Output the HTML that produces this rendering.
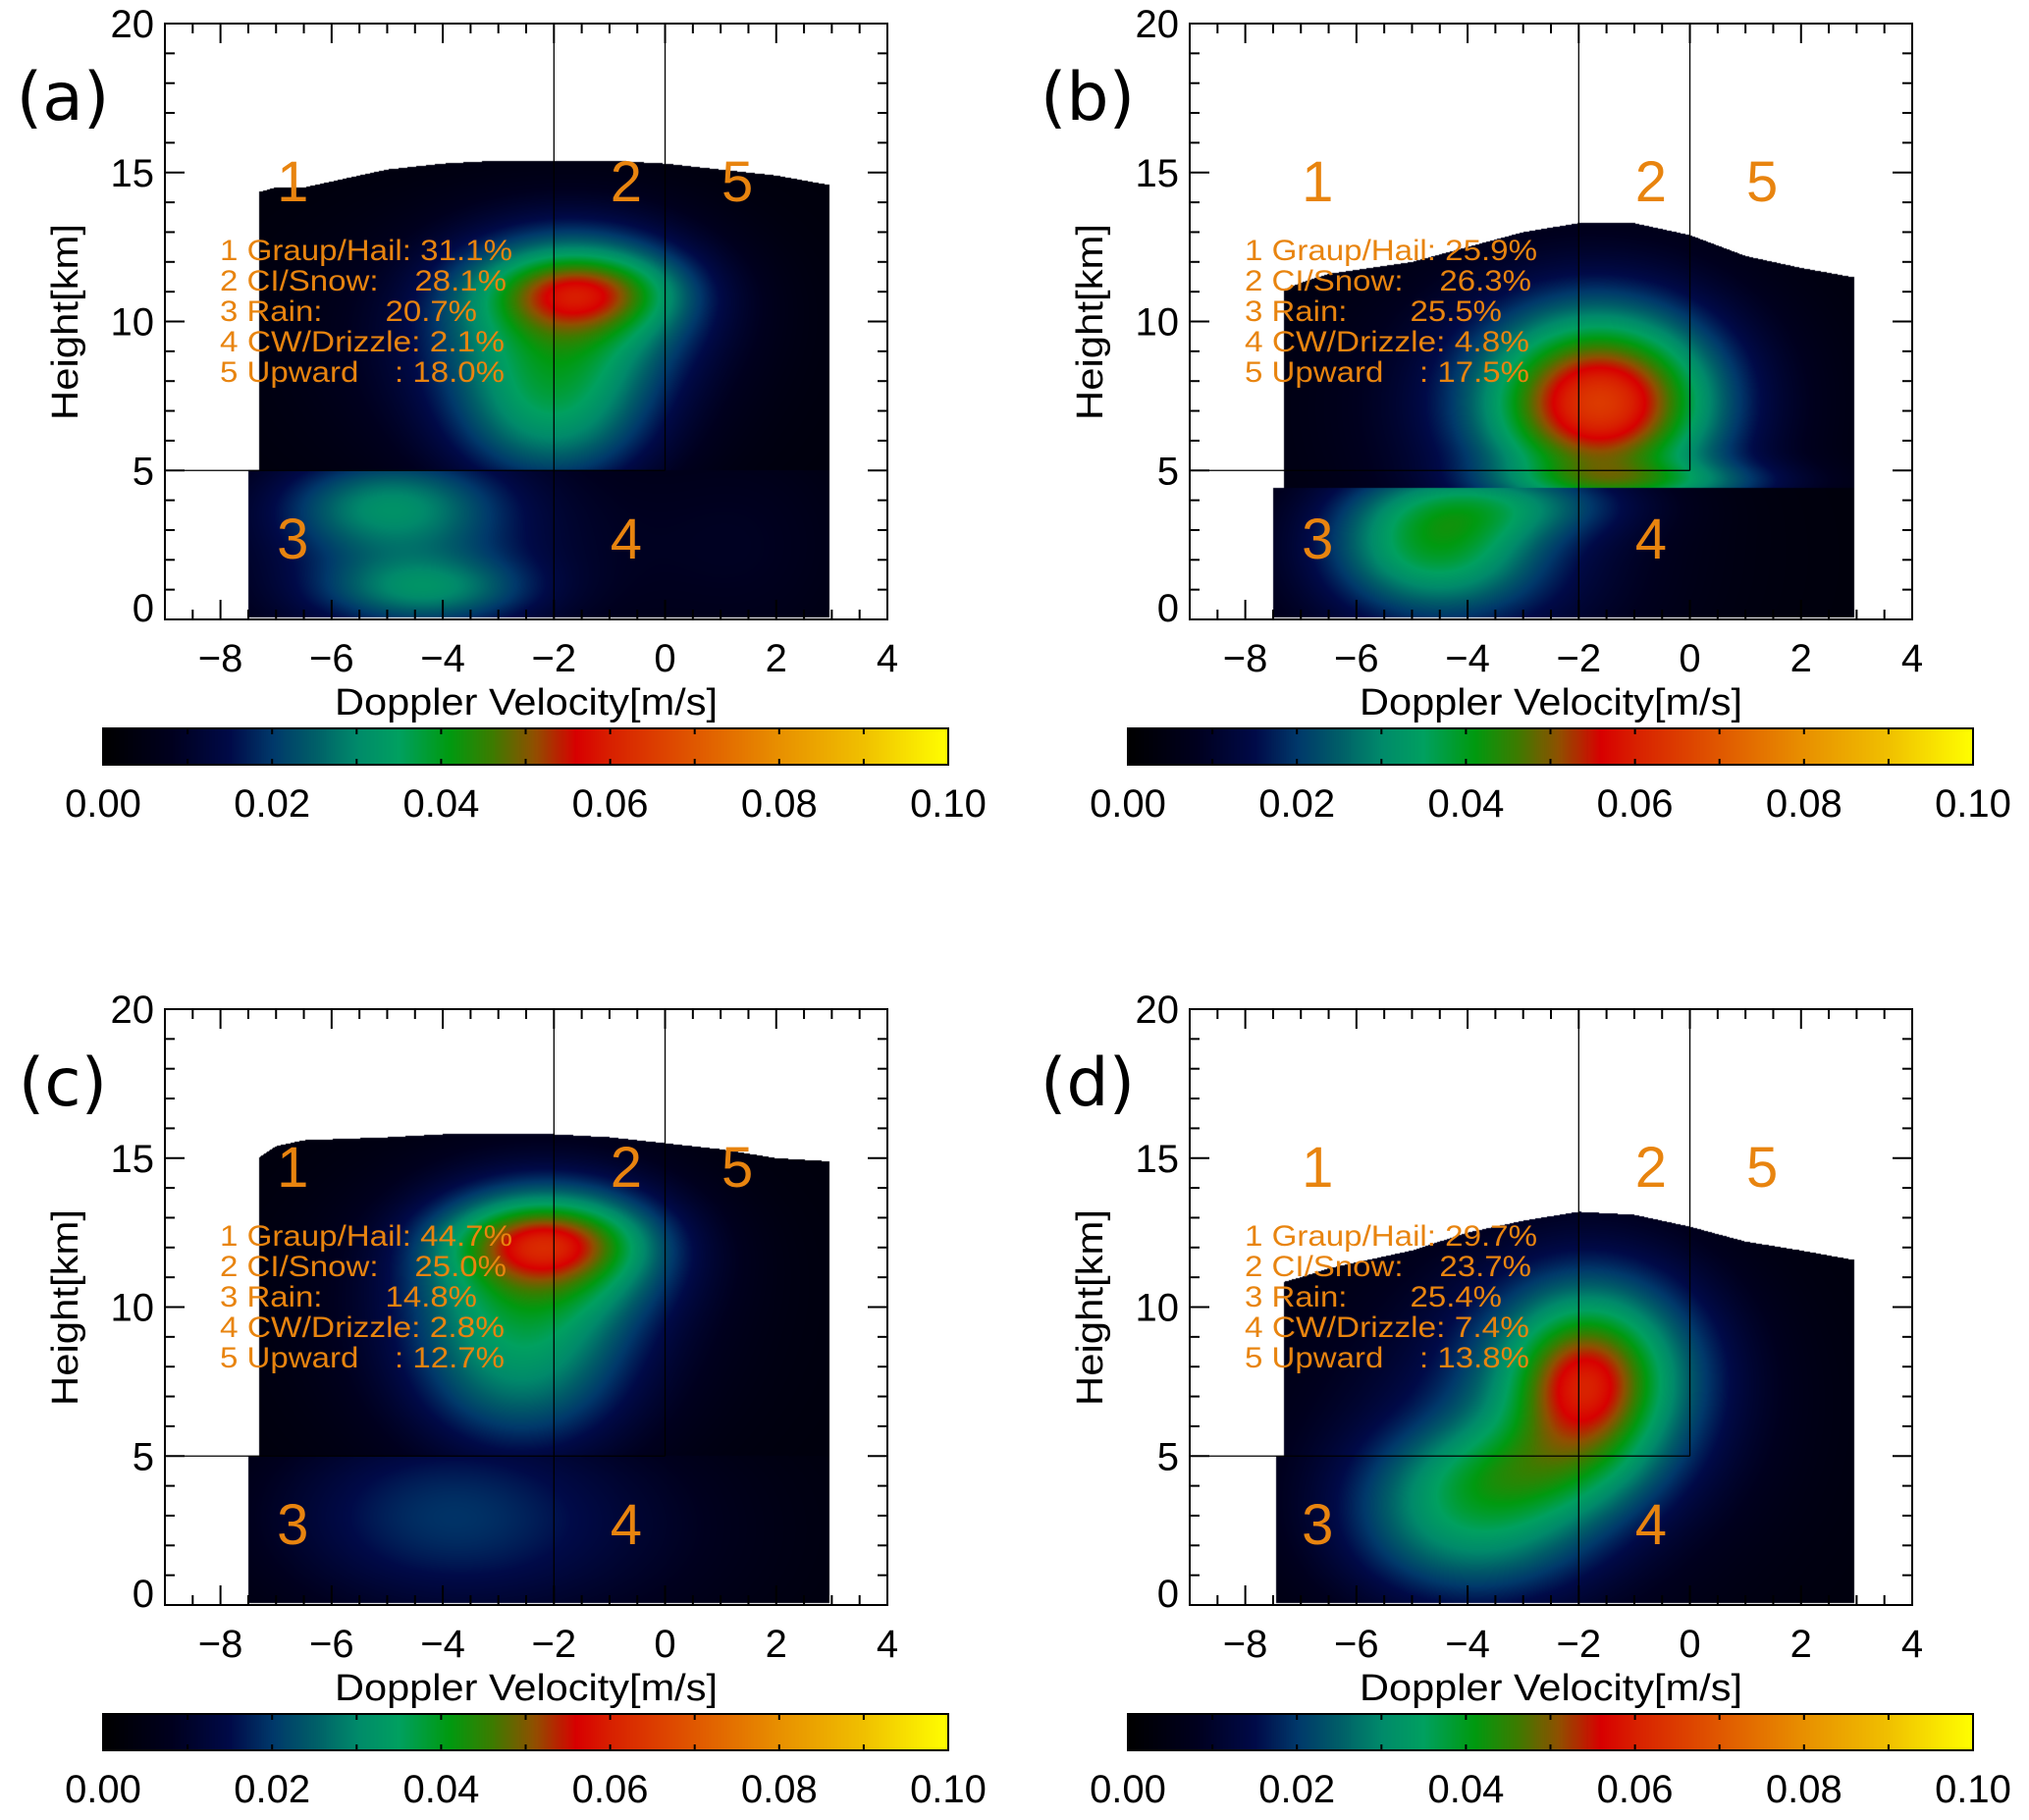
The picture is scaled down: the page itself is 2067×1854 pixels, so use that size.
<!DOCTYPE html>
<html><head><meta charset="utf-8">
<style>
html,body{margin:0;padding:0;background:#fff;}
#root{position:relative;width:2067px;height:1854px;overflow:hidden;background:#fff;}
canvas{position:absolute;}
svg{position:absolute;left:0;top:0;}
</style></head>
<body>
<div id="root">
<svg id="ov" width="2067" height="1854"></svg>
</div>
<script>
// ---- data ----
const panelIds = ['a','b','c','d'];
const xTicks = [-8,-6,-4,-2,0,2,4];
const yTicks = [0,5,10,15,20];
const cbTicks = [0.00,0.02,0.04,0.06,0.08,0.10];
const cbStopVals = [0,0.008,0.015,0.02,0.025,0.03,0.035,0.041,0.046,0.051,0.056,0.06,0.07,0.08,0.09,0.1];
const cbStopCols = ['#000000','#00001e','#000a48','#00386a','#005e68','#008a6a','#00a060','#009a10','#3c7c00','#905000','#d80000','#d82000','#e05800','#e89000','#f0c000','#ffff00'];
const statsA = ['1 Graup/Hail: 31.1%','2 CI/Snow:    28.1%','3 Rain:       20.7%','4 CW/Drizzle: 2.1%','5 Upward    : 18.0%'];
const statsB = ['1 Graup/Hail: 25.9%','2 CI/Snow:    26.3%','3 Rain:       25.5%','4 CW/Drizzle: 4.8%','5 Upward    : 17.5%'];
const statsC = ['1 Graup/Hail: 44.7%','2 CI/Snow:    25.0%','3 Rain:       14.8%','4 CW/Drizzle: 2.8%','5 Upward    : 12.7%'];
const statsD = ['1 Graup/Hail: 29.7%','2 CI/Snow:    23.7%','3 Rain:       25.4%','4 CW/Drizzle: 7.4%','5 Upward    : 13.8%'];
// top outline of data region: velocity -> height
const topV = [-7.4,-7.0,-6.5,-5,-4,-3,-2,-1,0,1,2,2.9];
const topA = [14.3,14.5,14.5,15.1,15.3,15.4,15.4,15.4,15.3,15.1,14.9,14.6];
const topB = [11.0,11.3,11.6,12.0,12.5,13.0,13.3,13.3,12.9,12.2,11.8,11.5];
const topC = [14.9,15.4,15.6,15.7,15.8,15.8,15.8,15.7,15.5,15.3,15.0,14.9];
const topD = [10.8,11.0,11.3,11.9,12.5,12.9,13.2,13.1,12.7,12.2,11.9,11.6];
const splitH = [5.0,4.4,5.0,-1];
// blobs: [v, h, amplitude, sigmaV, sigmaH, region(0 all,1 upper,2 lower)]
const blobsA = [[-1.5,11.0,0.02,1.1,0.85,1],[-1.6,10.8,0.026,1.6,1.8,1],[-2.0,7.0,0.022,1.3,2.0,1],[-2.5,9,0.01,2.5,3,1],
  [-5.0,3.8,0.016,1.3,1.1,2],[-4.3,1.0,0.016,1.3,0.8,2],[-4.5,2.5,0.014,2.4,3,2],[1.5,2.5,0.005,1.5,3,2]];
const blobsB = [[-1.6,7.2,0.024,1.2,1.7,1],[-1.6,7.4,0.03,1.7,2.5,1],[-2.5,7,0.008,3,4,1],[-0.8,4.6,0.015,1.8,0.5,1],
  [-4.6,2.6,0.025,1.3,1.6,2],[-3.0,3.9,0.012,1.5,0.8,2],[-4,2,0.012,2.5,3,2]];
const blobsC = [[-2.2,12.2,0.018,1.1,0.85,1],[-2.0,12.0,0.026,1.5,1.6,1],[-2.6,8.5,0.02,1.4,2.5,1],[-2.5,10,0.01,2.5,3.5,1],
  [-4.2,3.0,0.014,2.2,2.4,2],[-1,2.5,0.005,2.5,3,2]];
const blobsD = [[-1.9,7.3,0.02,0.8,1.6,0],[-1.7,7.8,0.028,1.5,2.6,0],[-4.0,2.8,0.022,1.6,2.0,0],[-3.0,4.5,0.01,1.4,1.2,0],[-3,6,0.01,3,4.5,0]];
const panelStats = [statsA,statsB,statsC,statsD];
const panelTops = [topA,topB,topC,topD];
const panelBlobs = [blobsA,blobsB,blobsC,blobsD];

// ---- layout ----
const OX=[0,1044,0,1044], OY=[0,0,1004,1004];
const BX0=168,BX1=904,BY0=24,BY1=631, XMIN=-9,XMAX=4,YMIN=0,YMAX=20;
const CBX0=105,CBX1=966,CBY0=742,CBY1=779;
const NS='http://www.w3.org/2000/svg';
const ov=document.getElementById('ov');
function xs(v,p){return OX[p]+BX0+(v-XMIN)/(XMAX-XMIN)*(BX1-BX0);}
function ys(h,p){return OY[p]+BY1-(h-YMIN)/(YMAX-YMIN)*(BY1-BY0);}
function cbx(v,p){return OX[p]+CBX0+v/0.1*(CBX1-CBX0);}
function hex(c){return [parseInt(c.substr(1,2),16),parseInt(c.substr(3,2),16),parseInt(c.substr(5,2),16)];}
const stopRGB=cbStopCols.map(hex);
function cmap(v){
  if(v<=cbStopVals[0])return stopRGB[0];
  for(let i=1;i<cbStopVals.length;i++){
    if(v<=cbStopVals[i]){const t=(v-cbStopVals[i-1])/(cbStopVals[i]-cbStopVals[i-1]);
      const a=stopRGB[i-1],b=stopRGB[i];return [a[0]+(b[0]-a[0])*t,a[1]+(b[1]-a[1])*t,a[2]+(b[2]-a[2])*t];}
  }
  return stopRGB[stopRGB.length-1];
}
function el(tag,attrs,parent){const e=document.createElementNS(NS,tag);for(const k in attrs)e.setAttribute(k,attrs[k]);(parent||ov).appendChild(e);return e;}
function topAt(arr,v){
  if(v<=topV[0])return arr[0];
  for(let i=1;i<topV.length;i++){if(v<=topV[i]){const t=(v-topV[i-1])/(topV[i]-topV[i-1]);return arr[i-1]+(arr[i]-arr[i-1])*t;}}
  return arr[arr.length-1];
}
const root=document.getElementById('root');
const FONT='"Liberation Sans", Arial, sans-serif';
const ORANGE='#e8840f';

for(let p=0;p<4;p++){
  const W=BX1-BX0,H=BY1-BY0;
  const cv=document.createElement('canvas');
  cv.width=W;cv.height=H;cv.style.left=(OX[p]+BX0)+'px';cv.style.top=(OY[p]+BY0)+'px';
  
  
  root.insertBefore(cv,ov);
  const ctx=cv.getContext('2d');const img=ctx.createImageData(W,H);const d=img.data;
  const blobs=panelBlobs[p],tops=panelTops[p],sp=splitH[p];
  for(let j=0;j<H;j++){
    const h=YMAX-(j+0.5)/H*(YMAX-YMIN);
    for(let i=0;i<W;i++){
      const v=XMIN+(i+0.5)/W*(XMAX-XMIN);
      let left=(sp>0&&h<sp)?-7.5:-7.3; if(sp<0&&h<5)left=-7.45;
      const right=2.95;
      const idx=(j*W+i)*4;
      if(v<left||v>right||h>topAt(tops,v)||h<0.05){d[idx]=255;d[idx+1]=255;d[idx+2]=255;d[idx+3]=0;continue;}
      let val=0.003;
      for(const b of blobs){
        if(b[5]===1&&sp>0&&h<sp)continue;
        if(b[5]===2&&sp>0&&h>=sp)continue;
        const dv=(v-b[0])/b[3],dh=(h-b[1])/b[4];
        val+=b[2]*Math.exp(-0.5*(dv*dv+dh*dh));
      }
      const c=cmap(val);d[idx]=c[0];d[idx+1]=c[1];d[idx+2]=c[2];d[idx+3]=255;
    }
  }
  ctx.putImageData(img,0,0);

  const g=el('g',{});
  
  
  const l1=el('line',{x1:xs(-2,p),y1:ys(20,p),x2:xs(-2,p),y2:ys(0,p),stroke:'#000','stroke-width':1.3},g);
  
  
  const l2=el('line',{x1:xs(0,p),y1:ys(20,p),x2:xs(0,p),y2:ys(5,p),stroke:'#000','stroke-width':1.3},g);
  
  
  const l3=el('line',{x1:xs(-9,p),y1:ys(5,p),x2:xs(0,p),y2:ys(5,p),stroke:'#000','stroke-width':1.3},g);
  
  
  const fr=el('rect',{x:OX[p]+BX0,y:OY[p]+BY0,width:BX1-BX0,height:BY1-BY0,fill:'none',stroke:'#000','stroke-width':2},g);
  
  
  for(let v=-9;v<=4.001;v+=0.5){
    const major=Math.abs(v/2-Math.round(v/2))<1e-6;const L=major?20:10;const x=xs(v,p);
    el('line',{x1:x,y1:ys(0,p),x2:x,y2:ys(0,p)-L,stroke:'#000','stroke-width':2},g);
    el('line',{x1:x,y1:ys(20,p),x2:x,y2:ys(20,p)+L,stroke:'#000','stroke-width':2},g);
  }
  for(let h=0;h<=20;h+=1){
    const major=h%5===0;const L=major?20:10;const y=ys(h,p);
    el('line',{x1:OX[p]+BX0,y1:y,x2:OX[p]+BX0+L,y2:y,stroke:'#000','stroke-width':2},g);
    el('line',{x1:OX[p]+BX1,y1:y,x2:OX[p]+BX1-L,y2:y,stroke:'#000','stroke-width':2},g);
  }
  for(const v of xTicks){
    const t=el('text',{x:xs(v,p),y:OY[p]+684,'font-family':FONT,'font-size':40,'text-anchor':'middle',fill:'#000'},g);
    t.textContent=(v<0?'\u2212'+(-v):''+v);
    
    
  }
  for(const h of yTicks){
    const t=el('text',{x:OX[p]+157,y:ys(h,p)+(h===0?2:14),'font-family':FONT,'font-size':40,'text-anchor':'end',fill:'#000'},g);
    t.textContent=''+h;
    
    
  }
  const xt=el('text',{x:OX[p]+536,y:OY[p]+728,'font-family':FONT,'font-size':38,'text-anchor':'middle',fill:'#000',textLength:390,lengthAdjust:'spacingAndGlyphs'},g);
  xt.textContent='Doppler Velocity[m/s]';
  
  
  const yt=el('text',{x:0,y:0,'font-family':FONT,'font-size':38,'text-anchor':'middle',fill:'#000',transform:'translate('+(OX[p]+79)+','+(OY[p]+328)+') rotate(-90)',textLength:200,lengthAdjust:'spacingAndGlyphs'},g);
  yt.textContent='Height[km]';
  
  
  const pl=el('text',{x:OX[p]+64,y:OY[p]+122,'font-family':'"DejaVu Sans", sans-serif','font-size':68,'text-anchor':'middle',fill:'#000'},g);
  pl.textContent='('+panelIds[p]+')';
  
  
  const regs=[['1',-6.7,15],['2',-0.7,15],['5',1.3,15],['3',-6.7,3],['4',-0.7,3]];
  for(const r of regs){
    const t=el('text',{x:xs(r[1],p),y:ys(r[2],p)+29,'font-family':FONT,'font-size':58,'text-anchor':'middle',fill:ORANGE},g);
    t.textContent=r[0];
    
    
  }
  const st=panelStats[p];const lens=[298,292,262,290,290];
  for(let k=0;k<st.length;k++){
    const t=el('text',{x:OX[p]+224,y:OY[p]+265+k*31,'font-family':FONT,'font-size':30,fill:ORANGE,'xml:space':'preserve',textLength:lens[k],lengthAdjust:'spacingAndGlyphs'},g);
    t.setAttribute('style','white-space:pre');
    t.textContent=st[k];
    
    
  }
  const cc=document.createElement('canvas');
  const cw=CBX1-CBX0,ch=CBY1-CBY0;cc.width=cw;cc.height=ch;
  cc.style.left=(OX[p]+CBX0)+'px';cc.style.top=(OY[p]+CBY0)+'px';
  
  
  root.insertBefore(cc,ov);
  const c2=cc.getContext('2d');
  for(let i=0;i<cw;i++){const c=cmap((i+0.5)/cw*0.1);c2.fillStyle='rgb('+c.map(Math.round).join(',')+')';c2.fillRect(i,0,1,ch);}
  const cbf=el('rect',{x:OX[p]+CBX0,y:OY[p]+CBY0,width:cw,height:ch,fill:'none',stroke:'#000','stroke-width':2},g);
  
  
  for(let v=0.01;v<0.0999;v+=0.01){
    const x=cbx(v,p);
    el('line',{x1:x,y1:OY[p]+CBY0,x2:x,y2:OY[p]+CBY0+6,stroke:'#000','stroke-width':2},g);
    el('line',{x1:x,y1:OY[p]+CBY1,x2:x,y2:OY[p]+CBY1-6,stroke:'#000','stroke-width':2},g);
  }
  for(const v of cbTicks){
    const t=el('text',{x:cbx(v,p),y:OY[p]+832,'font-family':FONT,'font-size':40,'text-anchor':'middle',fill:'#000'},g);
    t.textContent=v.toFixed(2);
    
    
  }
}
</script>
</body></html>
